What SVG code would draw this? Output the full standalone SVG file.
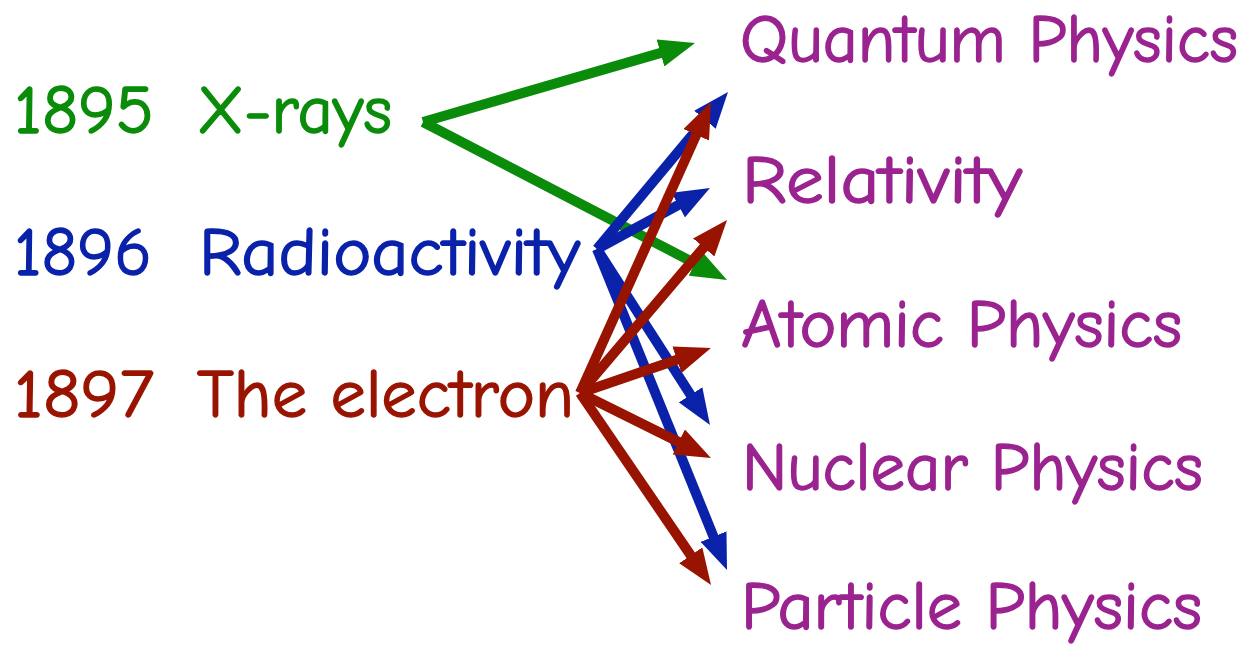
<svg xmlns="http://www.w3.org/2000/svg" width="1253" height="645" viewBox="0 0 1253 645">
<style>
text{font-family:"Comic Sans MS","Comic Neue","Noto Sans","Liberation Sans",sans-serif;font-size:68px;stroke-width:1.4px;stroke-linejoin:round}
.g{fill:#0a8c0a;stroke:#0a8c0a}.b{fill:#0a22aa;stroke:#0a22aa}.r{fill:#991400;stroke:#991400}.p{fill:#9a2390;stroke:#9a2390}
.lg{stroke:#0a8c0a;stroke-width:10;fill:none;marker-end:url(#ag)}
.lb{stroke:#0a22aa;stroke-width:10;fill:none;marker-end:url(#ab)}
.lr{stroke:#991400;stroke-width:10;fill:none;marker-end:url(#ar)}
</style>
<defs>
<marker id="ag" markerUnits="userSpaceOnUse" viewBox="0 0 36 28" refX="4" refY="14" markerWidth="36" markerHeight="28" orient="auto"><path d="M0,0 L36,14 L0,28 z" fill="#0a8c0a"/></marker>
<marker id="ab" markerUnits="userSpaceOnUse" viewBox="0 0 36 28" refX="4" refY="14" markerWidth="36" markerHeight="28" orient="auto"><path d="M0,0 L36,14 L0,28 z" fill="#0a22aa"/></marker>
<marker id="ar" markerUnits="userSpaceOnUse" viewBox="0 0 36 28" refX="4" refY="14" markerWidth="36" markerHeight="28" orient="auto"><path d="M0,0 L36,14 L0,28 z" fill="#991400"/></marker>
</defs>
<rect width="1253" height="645" fill="#fff"/>
<g id="xrays"><text class="g" y="133"><tspan x="14" textLength="140" lengthAdjust="spacingAndGlyphs">1895</tspan><tspan x="197" textLength="195" lengthAdjust="spacingAndGlyphs">X-rays</tspan></text></g>
<g id="radioactivity"><text class="b" y="275"><tspan x="14" textLength="138" lengthAdjust="spacingAndGlyphs">1896</tspan><tspan x="199" textLength="381" lengthAdjust="spacingAndGlyphs">Radioactivity</tspan></text></g>
<g id="electron"><text class="r" y="417"><tspan x="14" textLength="140" lengthAdjust="spacingAndGlyphs">1897</tspan><tspan x="197" textLength="377" lengthAdjust="spacingAndGlyphs">The electron</tspan></text></g>
<g id="quantum"><text class="p" x="740" y="62" textLength="498" lengthAdjust="spacingAndGlyphs">Quantum Physics</text></g>
<g id="relativity"><text class="p" x="742" y="203" textLength="280" lengthAdjust="spacingAndGlyphs">Relativity</text></g>
<g id="atomic"><text class="p" x="741" y="347" textLength="441" lengthAdjust="spacingAndGlyphs">Atomic Physics</text></g>
<g id="nuclear"><text class="p" x="742" y="490" textLength="461" lengthAdjust="spacingAndGlyphs">Nuclear Physics</text></g>
<g id="particle"><text class="p" x="741" y="629" textLength="461" lengthAdjust="spacingAndGlyphs">Particle Physics</text></g>
<g id="connectors">
<line class="lg" x1="423" y1="122" x2="664.3" y2="51.9"/>
<line class="lg" x1="423" y1="122" x2="698.6" y2="265.2"/>
<line class="lb" x1="597" y1="249" x2="707.5" y2="116.6"/>
<line class="lb" x1="597" y1="249" x2="681.8" y2="203.2"/>
<line class="lb" x1="597" y1="249" x2="692.7" y2="398.1"/>
<line class="lb" x1="597" y1="249" x2="715.0" y2="540.3"/>
<line class="lr" x1="580" y1="393" x2="697.9" y2="131.2"/>
<line class="lr" x1="580" y1="393" x2="706.3" y2="244.4"/>
<line class="lr" x1="580" y1="393" x2="680.7" y2="358.4"/>
<line class="lr" x1="580" y1="393" x2="682.3" y2="443.8"/>
<line class="lr" x1="580" y1="393" x2="693.0" y2="558.6"/>
</g>
</svg>
